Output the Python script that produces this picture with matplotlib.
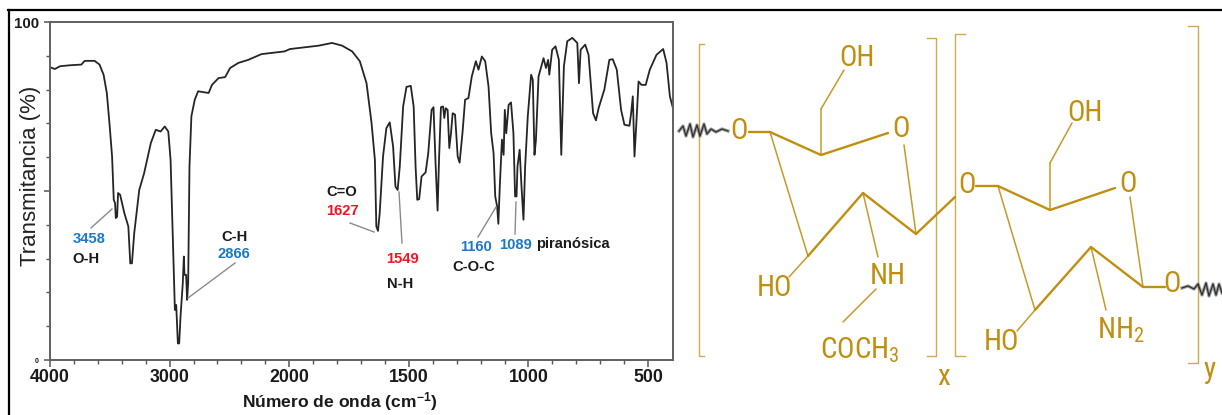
import matplotlib
matplotlib.use("Agg")
import matplotlib.pyplot as plt
import numpy as np
from matplotlib.lines import Line2D
from matplotlib import font_manager as fm

plt.rcParams['font.family'] = ['Liberation Sans', 'DejaVu Sans']
plt.rcParams['mathtext.default'] = 'regular'

# --- spectrum ---
wavenumber = [4000,3959,3917,3834,3738,3710,3627,3586,3552,3525,3503,3481,3467,3456,3450,3439,3431,3414,3378,3345,
3329,3315,3296,3254,3213,3157,3116,3075,3041,3011,2992,2978,2964,2956,2945,2931,2920,2909,2890,2881,
2876,2862,2854,2845,2834,2818,2790,2762,2674,2646,2591,2536,2494,2425,2343,2232,2039,1997,1961,1877,
1821,1779,1737,1705,1677,1656,1642,1636,1629,1622,1608,1594,1580,1566,1556,1547,1538,1524,1510,1492,
1480,1472,1465,1457,1447,1430,1419,1405,1397,1389,1380,1374,1366,1357,1352,1346,1338,1331,1324,1317,
1307,1296,1288,1276,1265,1251,1237,1220,1209,1195,1181,1167,1156,1146,1139,1131,1126,1120,1111,1104,
1099,1093,1083,1073,1063,1056,1050,1046,1037,1030,1021,1014,1003,989,982,975,969,958,937,927,
918,913,901,887,873,863,852,838,817,796,789,782,763,749,730,718,707,683,662,648,
631,613,599,578,571,564,557,550,540,528,510,493,465,437,423,409,396]
transmittance = [86.6,86.1,86.9,87.2,87.4,88.5,88.5,87.4,84.4,79.0,70.1,60.2,47.4,46.4,42.0,42.4,49.4,48.9,43.4,39.5,
28.6,28.6,37.5,50.3,55.3,64.2,68.1,67.6,69.1,67.6,59.2,42.4,24.7,14.8,16.3,4.9,4.9,12.8,22.7,30.6,
25.2,25.2,17.8,22.7,57.3,72.1,77.0,79.5,79.0,81.4,83.4,83.7,86.4,87.9,88.8,90.5,91.3,92.0,92.3,93.0,
93.8,93.0,91.3,88.4,81.9,70.1,59.2,39.5,38.2,43.4,60.2,68.6,70.3,63.2,51.3,50.3,57.3,75.0,80.8,81.1,
75.0,57.3,47.4,47.6,54.3,55.5,61.2,74.0,74.8,59.2,44.2,59.2,74.8,75.0,71.6,74.5,74.0,62.7,67.1,73.0,
72.6,60.2,58.4,67.1,77.0,77.5,83.9,88.4,85.9,89.8,88.4,80.9,67.1,61.2,48.4,45.4,40.3,51.3,65.2,60.7,
74.0,67.1,75.5,76.2,67.1,48.4,48.4,57.3,62.2,52.3,41.5,57.3,72.1,84.4,82.9,60.7,65.0,83.9,89.3,86.4,
88.8,84.4,91.8,92.8,88.8,60.7,86.9,94.3,95.3,93.8,81.9,91.8,93.3,90.3,73.0,70.9,74.5,80.0,88.8,89.0,
85.9,74.0,69.6,69.3,73.0,78.0,60.2,69.0,82.4,81.4,81.4,85.9,90.3,92.0,87.9,78.0,74.5]
x_major = [4000,3000,2000,1500,1000,500]
x_minor = [3800,3600,3400,3200,2800,2600,2400,2200,1900,1800,1700,1600,1400,1300,1200,1100,900,800,700,600]
y_minor = [10,20,30,40,60,70,80,90]

# --- annotations: (text, x px, y px, colour) ---
BLUE, RED, BLACK = '#1c78c8', '#f5141e', '#1a1a1a'
peak_labels = [('3458',89,239,BLUE),('O-H',86,259,BLACK),('C-H',235,237,BLACK),('2866',234,254,BLUE),
               ('C=O',342,192,BLACK),('1627',342,211,RED),('1549',402,259,RED),('N-H',400,284,BLACK),
               ('1160',476,247,BLUE),('C-O-C',474,267,BLACK),('1089',515,245,BLUE),('piranósica',573,244,BLACK)]
leaders = [((91,228),(112,209)),((235,263),(188,298)),((350,223),(374,232)),
           ((399,192),(402,243)),((496,207),(478,237)),((516,202),(515,234))]

# --- chitosan scheme ---
GOLD = '#c08f10'
struct_labels = [('O',739,131),('O',901,129),('OH',857,58),('HO',774,288),('NH',888,276),('COCH$_3$',860,350),
                 ('O',967,185),('O',1128,184),('OH',1085,113),('HO',1001,342),('NH$_2$',1121,330),('O',1172,284),
                 ('x',944,377),('y',1210,370)]
thick_bonds = [((749,132),(770,132)),((770,132),(821,155)),((821,155),(888,133)),((863,193),(916,234)),
               ((916,234),(955,197)),((976,186),(998,186)),((998,186),(1050,210)),((1050,210),(1115,188)),
               ((1091,247),(1143,287)),((1143,287),(1165,287)),((808,256),(863,193)),((1035,310),(1091,247))]
thin_bonds = [((821,155),(821,109)),((821,109),(844,70)),((770,132),(808,256)),((808,256),(789,277)),
              ((863,193),(878,257)),((904,145),(916,234)),((876,289),(843,322)),
              ((1050,210),(1050,163)),((1050,163),(1072,123)),((998,186),(1035,310)),((1035,310),(1017,331)),
              ((1091,247),(1106,310)),((1130,197),(1143,287))]
brackets = [[(704,44),(699,44),(699,356),(704,356)],[(927,38),(936,38),(936,356),(927,356)],
            [(965,34),(955,34),(955,356),(965,356)],[(1188,26),(1198,26),(1198,363),(1188,363)]]
squiggle_left = [(679,131),(683,126),(686,136),(690,124),(693,137),(697,125),(700,136),(704,124),(707,134),(711,129),(716,132),(722,129),(728,131)]
squiggle_right = [(1182,288),(1188,286),(1194,289),(1198,284),(1202,295),(1206,283),(1209,296),(1213,284),(1216,295),(1219,284),(1222,293)]

def fwd(w):
    w = np.asarray(w, float)
    return np.where(w >= 2000, w, 2*w - 2000)
def inv(u):
    u = np.asarray(u, float)
    return np.where(u >= 2000, u, (u + 2000)/2)

W, H = 1222, 415
fig = plt.figure(figsize=(W/100, H/100), dpi=100, facecolor='white')
ax = fig.add_axes([50/W, 1-360/H, 623/W, 338/H])
ax.set_xscale('function', functions=(fwd, inv))
ax.plot(wavenumber, transmittance, color='#252525', lw=1.3, solid_joinstyle='round')
ax.set_xlim(4000, 396)
ax.set_ylim(0, 100)
ax.xaxis.set_major_locator(matplotlib.ticker.FixedLocator(x_major))
ax.xaxis.set_minor_locator(matplotlib.ticker.FixedLocator(x_minor))
ax.xaxis.set_major_formatter(matplotlib.ticker.FixedFormatter([str(v) for v in x_major]))
ax.xaxis.set_minor_formatter(matplotlib.ticker.NullFormatter())
ax.yaxis.set_major_locator(matplotlib.ticker.FixedLocator([0, 50, 100]))
ax.yaxis.set_minor_locator(matplotlib.ticker.FixedLocator(y_minor))
ax.yaxis.set_major_formatter(matplotlib.ticker.FixedFormatter(['0', '', '100']))
ax.yaxis.set_minor_formatter(matplotlib.ticker.NullFormatter())
ax.tick_params(axis='x', which='major', length=5, width=1.1, color='#555555', labelsize=12.8, pad=1.5, labelcolor='#1a1a1a')
ax.tick_params(axis='x', which='minor', length=3, width=1.0, color='#555555')
ax.tick_params(axis='y', which='major', length=4, width=1.1, color='#555555', pad=4, labelcolor='#1a1a1a')
ax.tick_params(axis='y', which='minor', length=3, width=1.0, color='#555555')
for t in ax.get_xticklabels():
    t.set_fontweight('bold')
ylabels = ax.get_yticklabels()
ylabels[0].set_fontsize(5); ylabels[0].set_fontweight('bold')
ylabels[2].set_fontsize(10.8); ylabels[2].set_fontweight('bold')
for s in ax.spines.values():
    s.set_color('#606060'); s.set_linewidth(1.4)

ov = fig.add_axes([0, 0, 1, 1], facecolor='none')
ov.set_xlim(0, W); ov.set_ylim(H, 0); ov.axis('off')

for a, b in leaders:
    ov.plot([a[0], b[0]], [a[1], b[1]], color='#8a8a8a', lw=1.0)
for txt, x, y, c in peak_labels:
    ov.text(x, y, txt, color=c, fontsize=10.6, fontweight='bold', ha='center', va='center')
ov.text(31, 176, 'Transmitancia (%)', rotation=90, fontsize=16, color='#222222', ha='center', va='center')
ov.text(340, 402, 'Número de onda (cm$^{-1}$)', fontsize=12.6, fontweight='bold', color='#1a1a1a', ha='center', va='center')

for seg in thick_bonds:
    ov.plot(*zip(*seg), color=GOLD, lw=1.7, solid_capstyle='round')
for seg in thin_bonds:
    ov.plot(*zip(*seg), color=GOLD, lw=1.1, alpha=0.9, solid_capstyle='round')
for br in brackets:
    ov.plot(*zip(*br), color=GOLD, lw=1.0, alpha=0.75)
installed = {f.name for f in fm.fontManager.ttflist}
narrow = next((n for n in ['Roboto Condensed', 'Open Sans Condensed', 'DejaVu Sans Condensed', 'Lato'] if n in installed), 'Lato')
for txt, x, y in struct_labels:
    ov.text(x, y, txt, color=GOLD, fontsize=21, ha='center', va='center', family=[narrow, 'DejaVu Sans'])
for sq in (squiggle_left, squiggle_right):
    ov.plot(*zip(*sq), color='#555555', lw=2.4, alpha=0.55, solid_joinstyle='round')
    ov.plot(*zip(*sq), color='#222222', lw=0.9, alpha=0.9)

fig.add_artist(Line2D([8.5/W, 8.5/W], [0, 1-10/H], color='black', lw=1.6))
fig.add_artist(Line2D([8/W, 1], [1-10/H, 1-10/H], color='black', lw=1.6))
fig.savefig('out.png', dpi=100)
